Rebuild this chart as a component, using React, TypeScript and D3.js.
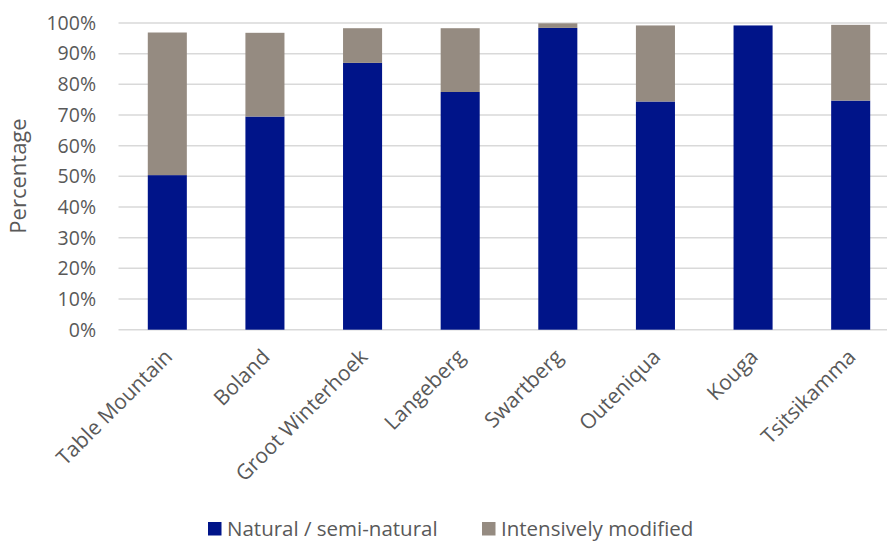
import React from "react";
import * as d3 from "d3";

const categories = [
  "Table Mountain",
  "Boland",
  "Groot Winterhoek",
  "Langeberg",
  "Swartberg",
  "Outeniqua",
  "Kouga",
  "Tsitsikamma",
];
const natural = [50.4, 69.5, 87.0, 77.5, 98.4, 74.4, 99.2, 74.7];
const intensive = [46.5, 27.3, 11.3, 20.8, 1.5, 24.8, 0, 24.7];
const yTicks = [0, 10, 20, 30, 40, 50, 60, 70, 80, 90, 100];
const seriesNames = ["Natural / semi-natural", "Intensively modified"];
const seriesColors = ["#001489", "#958b81"];

const W = 887;
const H = 542;
const FONT = "'Open Sans', sans-serif";
const TEXT = "#595959";

export default function App() {
  const x = d3
    .scaleBand<string>()
    .domain(categories)
    .range([118.5, 899.5])
    .paddingInner(0.6)
    .paddingOuter(0.3);
  const y = d3.scaleLinear().domain([0, 100]).range([329.7, 23]);

  const stackData = categories.map((c, i) => ({
    cat: c,
    natural: natural[i],
    intensive: intensive[i],
  }));
  const stack = d3.stack<any>().keys(["natural", "intensive"])(stackData);

  return (
    <svg
      width={W}
      height={H}
      style={{ position: "absolute", left: 0, top: 0, background: "#fff" }}
      fontFamily={FONT}
    >
      {yTicks.map((t) => (
        <g key={t}>
          <line
            x1={118.5}
            x2={W}
            y1={y(t)}
            y2={y(t)}
            stroke="#d9d9d9"
            strokeWidth={1.5}
          />
          <text
            x={96}
            y={y(t)}
            dy="0.35em"
            textAnchor="end"
            fontSize={19.5}
            fill={TEXT}
          >
            {t}%
          </text>
        </g>
      ))}

      {stack.map((layer, li) => (
        <g key={li} fill={seriesColors[li]}>
          {layer.map((d, i) =>
            d[1] - d[0] > 0 ? (
              <rect
                key={i}
                x={x(categories[i])}
                width={x.bandwidth()}
                y={y(d[1])}
                height={y(d[0]) - y(d[1])}
              />
            ) : null
          )}
        </g>
      ))}

      {categories.map((c) => (
        <text
          key={c}
          transform={`translate(${(x(c) as number) + x.bandwidth() / 2 + 1},${353}) rotate(-45)`}
          textAnchor="end"
          dy="0.35em"
          fontSize={21}
          fill={TEXT}
        >
          {c}
        </text>
      ))}

      <text
        transform={`translate(26,176) rotate(-90)`}
        textAnchor="middle"
        fontSize={22}
        fill={TEXT}
      >
        Percentage
      </text>

      <g>
        <rect x={208} y={522} width={13.5} height={13.5} fill={seriesColors[0]} />
        <text x={227} y={536} fontSize={20.5} fill={TEXT}>
          {seriesNames[0]}
        </text>
        <rect x={482} y={522} width={13.5} height={13.5} fill={seriesColors[1]} />
        <text x={501} y={536} fontSize={20.5} fill={TEXT}>
          {seriesNames[1]}
        </text>
      </g>
    </svg>
  );
}
